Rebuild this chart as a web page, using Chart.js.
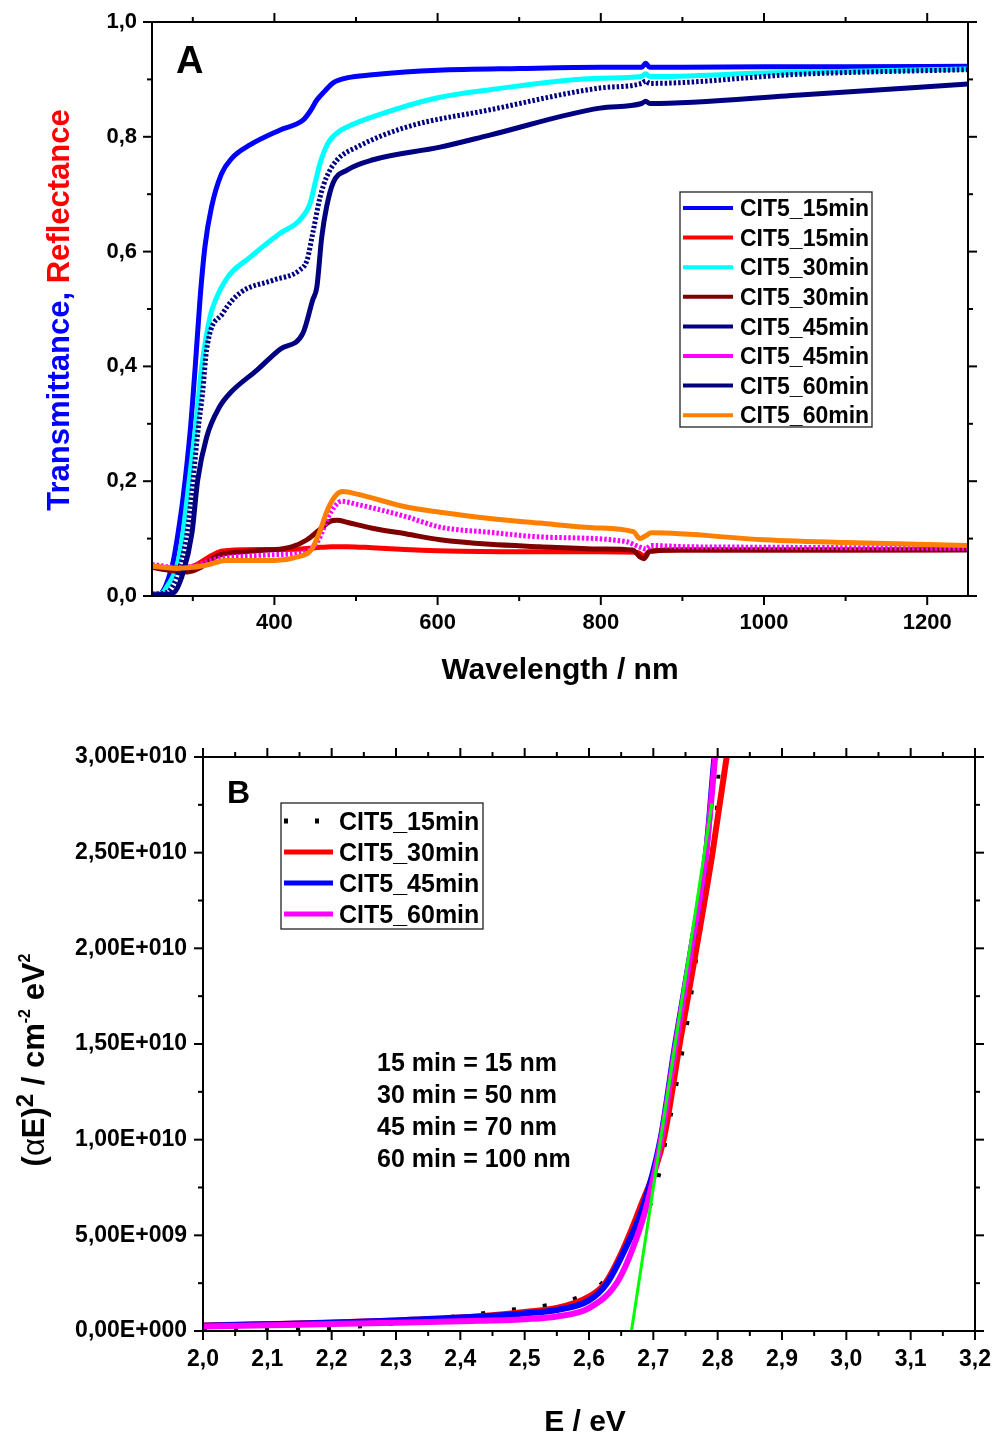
<!DOCTYPE html>
<html><head><meta charset="utf-8">
<script src="https://cdn.jsdelivr.net/npm/chart.js@4.4.1/dist/chart.umd.min.js"></script>
<style>
html,body{margin:0;padding:0;background:#fff;}
canvas{position:absolute;left:0;display:block;}
#ca{top:0}
#cb{top:700px}
</style></head><body>
<canvas id="ca" width="995" height="700"></canvas>
<canvas id="cb" width="995" height="736"></canvas>
<script>
// ---------------- Panel A data (wavelength nm -> T or R) ----------------
const A_NAMES = ['CIT5_15min','CIT5_15min','CIT5_30min','CIT5_30min','CIT5_45min','CIT5_45min','CIT5_60min','CIT5_60min'];

const T15_NM  = [250,258,264,270,276,282,288,297,303,309,315,323,335,348,370,407,435,444,452,462,472,490,520,560,600,700,800,850,855,860,900,1000,1100,1250];
const T15_VAL = [.003,.003,.01,.03,.06,.11,.17,.29,.40,.52,.61,.678,.735,.763,.786,.812,.829,.845,.864,.88,.894,.903,.908,.913,.916,.919,.921,.921,.928,.921,.921,.922,.922,.923];

const R15_NM  = [250,270,290,305,320,335,350,400,430,450,470,490,520,560,600,700,800,845,853,860,900,1000,1100,1250];
const R15_VAL = [.052,.049,.048,.055,.068,.078,.08,.081,.082,.084,.086,.086,.084,.081,.079,.077,.077,.076,.07,.078,.08,.08,.08,.081];

const T30_NM  = [250,262,270,276,282,288,293,298,303,311,321,328,343,370,407,431,444,450,456,462,468,478,489,521,600,664,800,850,855,860,1000,1250];
const T30_VAL = [.003,.005,.02,.035,.06,.11,.17,.23,.29,.40,.486,.516,.556,.59,.632,.655,.685,.72,.754,.778,.794,.808,.817,.835,.868,.882,.902,.905,.91,.905,.911,.918];

const R30_NM  = [250,270,293,310,330,370,420,440,455,468,477,490,520,562,603,664,725,800,839,848,853,860,900,1000,1250];
const R30_VAL = [.05,.045,.042,.05,.07,.078,.085,.098,.115,.13,.132,.128,.118,.108,.098,.09,.086,.082,.08,.068,.065,.078,.08,.08,.08];

const T45_NM  = [250,264,272,282,293,300,306,312,317,337,358,398,431,440,447,456,464,477,501,562,664,799,850,855,860,1044,1250];
const T45_VAL = [.003,.005,.01,.04,.11,.197,.284,.354,.43,.493,.528,.55,.568,.585,.632,.695,.73,.76,.782,.817,.847,.885,.893,.897,.893,.909,.917];

const R45_NM  = [250,280,300,330,370,400,440,455,465,475,482,500,562,603,664,725,830,848,855,862,900,1000,1250];
const R45_VAL = [.055,.05,.052,.065,.07,.072,.078,.1,.135,.158,.165,.16,.138,.12,.111,.103,.095,.085,.082,.088,.086,.085,.083];

const T60_NM  = [250,266,276,288,299,306,317,333,346,379,407,435,447,452,458,464,472,489,521,603,664,799,850,855,860,1044,1250];
const T60_VAL = [.002,.003,.005,.04,.11,.202,.277,.33,.354,.394,.43,.458,.516,.538,.625,.678,.72,.742,.76,.782,.803,.85,.858,.862,.858,.873,.892];

const R60_NM  = [250,280,300,320,340,400,428,445,455,465,475,484,500,562,603,664,725,790,840,848,855,862,1000,1100,1250];
const R60_VAL = [.052,.048,.05,.055,.062,.062,.068,.08,.11,.15,.175,.182,.178,.155,.146,.135,.127,.119,.112,.10,.105,.11,.098,.093,.088];

const A_XTICKS  = [400,600,800,1000,1200];
const A_XLABELS = ['400','600','800','1000','1200'];
const A_XMINOR  = [300,500,700,900,1100];
const A_YTICKS  = [0,0.2,0.4,0.6,0.8,1.0];
const A_YLABELS = ['0,0','0,2','0,4','0,6','0,8','1,0'];
const A_YMINOR  = [0.1,0.3,0.5,0.7,0.9];

// ---------------- Panel B data (E eV -> (alpha E)^2) ----------------
const B_NAMES = ['CIT5_15min','CIT5_30min','CIT5_45min','CIT5_60min'];

const B15_E = [2.0,2.1,2.2,2.3,2.4,2.425,2.475,2.52,2.565,2.612,2.65,2.691,2.706,2.7156,2.725,2.734,2.7426,2.751,2.758,2.7646,2.7715,2.778,2.786,2.7934,2.7985,2.8005,2.804];
const B15_V = [3e7,6e7,1.6e8,4e8,8e8,8.9e8,1.1e9,1.27e9,1.57e9,2.25e9,3.8e9,6.2e9,7.76e9,9.35e9,1.092e10,1.254e10,1.413e10,1.573e10,1.735e10,1.897e10,2.06e10,2.219e10,2.383e10,2.542e10,2.707e10,2.867e10,3.05e10];

const B30_E = [2.0,2.1,2.2,2.3,2.4,2.45,2.5,2.55,2.6,2.625,2.652,2.68,2.716,2.741,2.767,2.792,2.814,2.82];
const B30_V = [2.9e8,3.6e8,4.4e8,5.5e8,7.0e8,8.2e8,1.0e9,1.2e9,1.8e9,2.5e9,4.2e9,6.5e9,1.0e10,1.5e10,2.0e10,2.5e10,3.0e10,3.15e10];

const B45_E = [2.0,2.1,2.2,2.3,2.4,2.5,2.55,2.6,2.628,2.655,2.684,2.711,2.734,2.759,2.782,2.795,2.80];
const B45_V = [2.8e8,3.5e8,4.3e8,5.5e8,7.0e8,9.2e8,1.1e9,1.6e9,2.5e9,4.2e9,6.5e9,1.0e10,1.5e10,2.0e10,2.5e10,3.0e10,3.15e10];

const B60_E = [2.0,2.1,2.2,2.3,2.4,2.5,2.55,2.6,2.643,2.669,2.69,2.712,2.735,2.759,2.782,2.796,2.80];
const B60_V = [2.4e8,3.0e8,3.6e8,4.3e8,5.1e8,6.2e8,7.6e8,1.2e9,2.5e9,4.4e9,6.6e9,1.0e10,1.5e10,2.0e10,2.5e10,3.0e10,3.15e10];

const FIT_E = [2.666,2.791];
const FIT_V = [0,2.757e10];

const B_XTICKS  = [2.0,2.1,2.2,2.3,2.4,2.5,2.6,2.7,2.8,2.9,3.0,3.1,3.2];
const B_XLABELS = ['2,0','2,1','2,2','2,3','2,4','2,5','2,6','2,7','2,8','2,9','3,0','3,1','3,2'];
const B_XMINOR  = [2.05,2.15,2.25,2.35,2.45,2.55,2.65,2.75,2.85,2.95,3.05,3.15];
const B_YTICKS  = [0,5e9,1e10,1.5e10,2e10,2.5e10,3e10];
const B_YLABELS = ['0,00E+000','5,00E+009','1,00E+010','1,50E+010','2,00E+010','2,50E+010','3,00E+010'];
const B_YMINOR  = [2.5e9,7.5e9,1.25e10,1.75e10,2.25e10,2.75e10];

const B_NOTES = ['15 min = 15 nm','30 min = 50 nm','45 min = 70 nm','60 min = 100 nm'];

// ---------------- helpers ----------------
const FAM = "'Liberation Sans', Arial, Helvetica, sans-serif";
Chart.defaults.font.family = FAM;
Chart.defaults.color = '#000';
const bold = s => 'bold ' + s + 'px ' + FAM;
const pts = (xs, ys) => xs.map((x, i) => ({x: x, y: ys[i]}));

function drawRich(ctx, r) {
  ctx.save();
  ctx.translate(r.x, r.y);
  if (r.rot) ctx.rotate(r.rot);
  let total = 0;
  r.pieces.forEach(p => { ctx.font = p.font; p.w = ctx.measureText(p.t).width; total += p.w; });
  let cx = -total / 2;
  ctx.textBaseline = 'alphabetic';
  ctx.textAlign = 'left';
  r.pieces.forEach(p => {
    ctx.font = p.font; ctx.fillStyle = p.color || '#000';
    ctx.fillText(p.t, cx, -(p.dy || 0));
    cx += p.w;
  });
  ctx.restore();
}

const decorPlugin = {
  id: 'decor',
  afterDatasetsDraw(chart, args, o) {
    const ctx = chart.ctx, a = chart.chartArea;
    const xs = chart.scales.x, ys = chart.scales.y;
    ctx.save();
    ctx.strokeStyle = '#000';
    ctx.lineWidth = 2;
    ctx.lineCap = 'butt';
    ctx.setLineDash([]);
    const seg = (x1, y1, x2, y2) => { ctx.beginPath(); ctx.moveTo(x1, y1); ctx.lineTo(x2, y2); ctx.stroke(); };
    const dX = (vals, len) => vals.forEach(v => { const p = xs.getPixelForValue(v); seg(p, a.bottom, p, a.bottom + len); seg(p, a.top, p, a.top - len); });
    const dY = (vals, len) => vals.forEach(v => { const p = ys.getPixelForValue(v); seg(a.left, p, a.left - len, p); seg(a.right, p, a.right + len, p); });
    dX(o.xMajor, 9); dX(o.xMinor, 5); dY(o.yMajor, 9); dY(o.yMinor, 5);
    ctx.strokeRect(a.left, a.top, a.right - a.left, a.bottom - a.top);

    // legend
    const L = o.legend;
    ctx.fillStyle = '#fff';
    ctx.fillRect(L.x, L.y, L.w, L.h);
    ctx.lineWidth = 1.3;
    ctx.strokeStyle = '#222';
    ctx.strokeRect(L.x, L.y, L.w, L.h);
    L.items.forEach((di, i) => {
      const ds = chart.data.datasets[di];
      const cy = L.row0 + i * L.step;
      ctx.save();
      ctx.strokeStyle = ds.borderColor;
      ctx.lineWidth = L.lw;
      ctx.setLineDash(L.useDash ? (ds.borderDash || []) : []);
      seg(L.x1, cy, L.x2, cy);
      ctx.restore();
      ctx.fillStyle = '#000';
      ctx.font = bold(L.size);
      ctx.textAlign = 'left';
      ctx.textBaseline = 'alphabetic';
      ctx.fillText(ds.label, L.tx, cy + L.size * 0.36);
    });

    // plain texts
    (o.texts || []).forEach(t => {
      ctx.fillStyle = t.color || '#000';
      ctx.font = bold(t.size);
      ctx.textAlign = t.align || 'left';
      ctx.textBaseline = 'alphabetic';
      ctx.fillText(t.text, t.x, t.y);
    });
    (o.rich || []).forEach(r => drawRich(ctx, r));
    ctx.restore();
  }
};

function scaleX(min, max, ticks, labels, size, pad, h) {
  return {
    type: 'linear', min: min, max: max,
    afterFit: s => { s.height = h; s.paddingLeft = 0; s.paddingRight = 0; },
    afterBuildTicks: s => { s.ticks = ticks.map(v => ({value: v})); },
    ticks: { autoSkip: false, maxRotation: 0, padding: pad, font: {size: size, weight: 'bold'}, color: '#000',
             callback: (v, i) => labels[i] },
    grid: { display: false, drawTicks: false },
    border: { display: false }
  };
}
function scaleY(min, max, ticks, labels, size, pad, w) {
  return {
    type: 'linear', min: min, max: max,
    afterFit: s => { s.width = w; s.paddingTop = 0; s.paddingBottom = 0; },
    afterBuildTicks: s => { s.ticks = ticks.map(v => ({value: v})); },
    ticks: { autoSkip: false, padding: pad, font: {size: size, weight: 'bold'}, color: '#000',
             callback: (v, i) => labels[i] },
    grid: { display: false, drawTicks: false },
    border: { display: false }
  };
}

// ---------------- Chart A ----------------
const A_DATA = [[T15_NM,T15_VAL],[R15_NM,R15_VAL],[T30_NM,T30_VAL],[R30_NM,R30_VAL],[T45_NM,T45_VAL],[R45_NM,R45_VAL],[T60_NM,T60_VAL],[R60_NM,R60_VAL]];
const A_COLORS = ['#0000ff','#ff0000','#00ffff','#800000','#000080','#ff00ff','#000080','#ff8000'];
const A_DASH = [[],[],[],[],[2.5,2],[2.5,2],[],[]];

new Chart(document.getElementById('ca'), {
  type: 'line',
  data: {
    datasets: A_DATA.map((d, i) => ({
      label: A_NAMES[i], data: pts(d[0], d[1]),
      borderColor: A_COLORS[i], borderWidth: 5, borderDash: A_DASH[i],
      pointRadius: 0, fill: false, tension: 0.4, cubicInterpolationMode: 'monotone',
      order: 8 - i
    }))
  },
  options: {
    responsive: false, animation: false, devicePixelRatio: 1,
    layout: { padding: { left: 0, right: 27, top: 22, bottom: 0 } },
    scales: {
      x: scaleX(250, 1250, A_XTICKS, A_XLABELS, 22, 14, 104),
      y: scaleY(0, 1, A_YTICKS, A_YLABELS, 22, 15, 152)
    },
    plugins: {
      legend: { display: false }, tooltip: { enabled: false },
      decor: {
        xMajor: A_XTICKS, xMinor: A_XMINOR, yMajor: A_YTICKS, yMinor: A_YMINOR,
        legend: { x: 680, y: 192, w: 192, h: 235, row0: 208, step: 29.6, x1: 683, x2: 733, tx: 740, size: 23, lw: 4, useDash: false,
                  items: [0,1,2,3,4,5,6,7] },
        texts: [
          { text: 'A', x: 176, y: 73, size: 38 },
          { text: 'Wavelength / nm', x: 560, y: 679, size: 30, align: 'center' }
        ],
        rich: [
          { x: 69, y: 310, rot: -Math.PI / 2, pieces: [
            { t: 'Transmittance, ', font: bold(31), color: '#0000ff' },
            { t: 'Reflectance', font: bold(31), color: '#ff0000' }
          ] }
        ]
      }
    }
  },
  plugins: [decorPlugin]
});

// ---------------- Chart B ----------------
const B_DATA = [[B15_E,B15_V],[B30_E,B30_V],[B45_E,B45_V],[B60_E,B60_V],[FIT_E,FIT_V]];
const B_COLORS = ['#000000','#ff0000','#0000ff','#ff00ff','#00ff00'];
const B_WIDTH = [4,6,6,6,3];
const B_DASH = [[4,27],[],[],[],[]];
const B_LABELS = B_NAMES.concat(['fit']);

new Chart(document.getElementById('cb'), {
  type: 'line',
  data: {
    datasets: B_DATA.map((d, i) => ({
      label: B_LABELS[i], data: pts(d[0], d[1]),
      borderColor: B_COLORS[i], borderWidth: B_WIDTH[i], borderDash: B_DASH[i],
      pointRadius: 0, fill: false, tension: 0.4, cubicInterpolationMode: 'monotone',
      order: 5 - i
    }))
  },
  options: {
    responsive: false, animation: false, devicePixelRatio: 1,
    layout: { padding: { left: 0, right: 20, top: 57, bottom: 0 } },
    scales: {
      x: scaleX(2.0, 3.2, B_XTICKS, B_XLABELS, 23, 15, 105),
      y: scaleY(0, 3e10, B_YTICKS, B_YLABELS, 23, 16, 203)
    },
    plugins: {
      legend: { display: false }, tooltip: { enabled: false },
      decor: {
        xMajor: B_XTICKS, xMinor: B_XMINOR, yMajor: B_YTICKS, yMinor: B_YMINOR,
        legend: { x: 281, y: 103, w: 202, h: 126, row0: 121, step: 31, x1: 284, x2: 333, tx: 339, size: 25, lw: 5, useDash: true,
                  items: [0,1,2,3] },
        texts: [
          { text: 'B', x: 227, y: 103, size: 32 },
          { text: B_NOTES[0], x: 377, y: 371, size: 25 },
          { text: B_NOTES[1], x: 377, y: 403, size: 25 },
          { text: B_NOTES[2], x: 377, y: 435, size: 25 },
          { text: B_NOTES[3], x: 377, y: 467, size: 25 },
          { text: 'E / eV', x: 585, y: 731, size: 30, align: 'center' }
        ],
        rich: [
          { x: 44, y: 360, rot: -Math.PI / 2, pieces: [
            { t: '(', font: bold(31) },
            { t: 'α', font: '31px ' + FAM },
            { t: 'E)', font: bold(31) },
            { t: '2', font: bold(24), dy: 11 },
            { t: ' / cm', font: bold(31) },
            { t: '-2', font: bold(16), dy: 14 },
            { t: ' eV', font: bold(31) },
            { t: '2', font: bold(16), dy: 14 }
          ] }
        ]
      }
    }
  },
  plugins: [decorPlugin]
});
</script>
</body></html>
